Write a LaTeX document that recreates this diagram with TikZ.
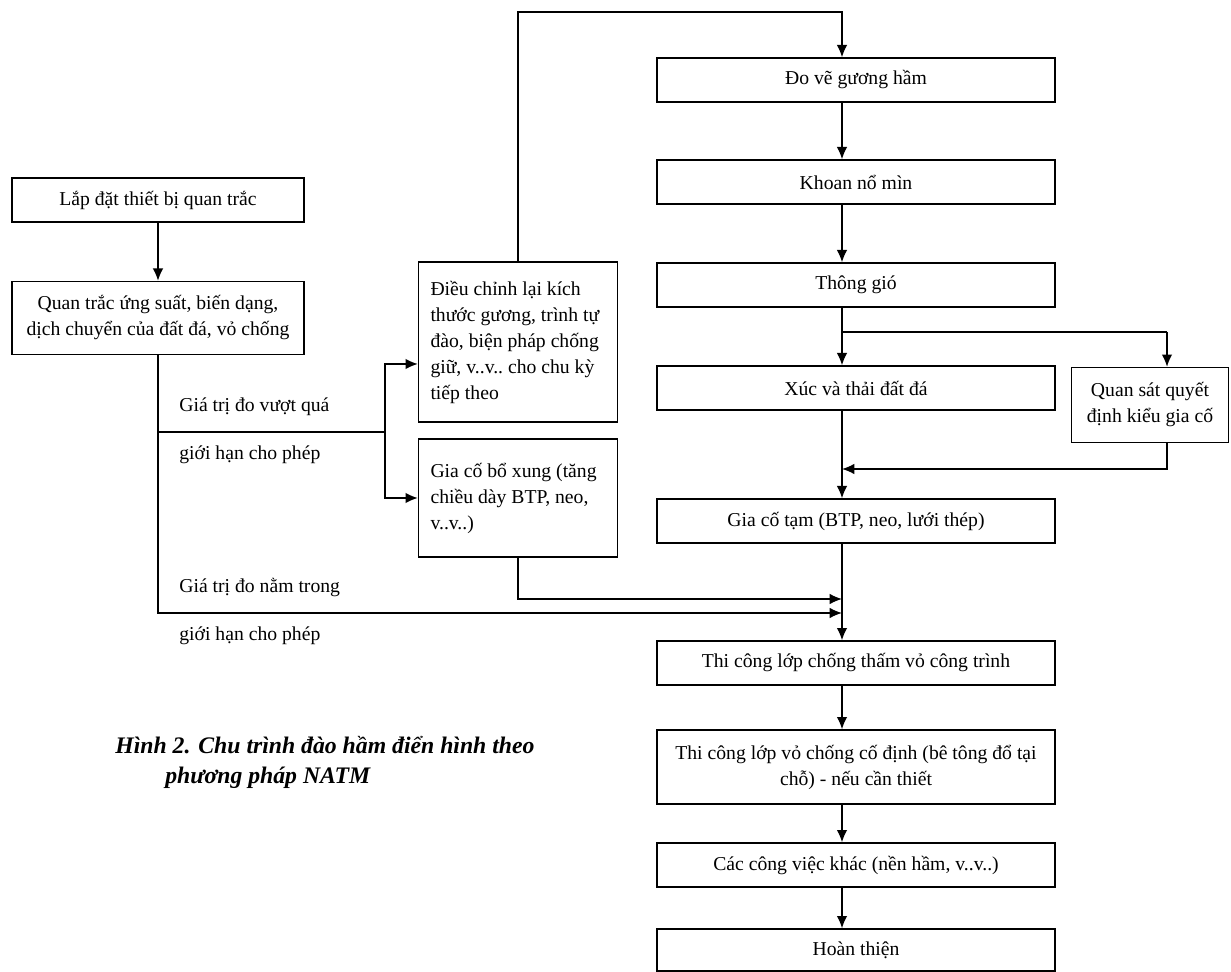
\documentclass[tikz,border=0pt]{standalone}
\usepackage{fontspec}
\setmainfont{Liberation Serif}
\usetikzlibrary{arrows.meta}

\newcommand{\boxfont}{\frenchspacing\fontsize{11.2}{14.8}\selectfont}
\newcommand{\capfont}{\fontsize{13.5}{17}\selectfont\bfseries\itshape}

\tikzset{
  box/.style={draw, line width=0.8pt, minimum height=0.88cm, inner sep=2pt, font=\boxfont, align=center},
  colbox/.style={box, minimum width=7.96cm},
  leftbox/.style={box, minimum width=5.84cm},
  sidebox/.style={box, minimum width=3.98cm, inner xsep=6pt, text width=3.5cm, align=flush left},
  arr/.style={-{Latex[length=7pt,width=6pt]}, line width=0.8pt},
  lbl/.style={anchor=west, font=\boxfont, inner sep=0pt},
}

\begin{document}
\begin{tikzpicture}[x=0.02cm, y=-0.02cm]

\useasboundingbox (0,0) rectangle (1231,972);

% left column
\node[leftbox] (lap) at (158,200) {Lắp đặt thiết bị quan trắc};
\node[leftbox, minimum height=1.46cm] (quantrac) at (158,318) {Quan trắc ứng suất, biến dạng,\\dịch chuyển của đất đá, vỏ chống};

% boxes in the middle
\node[sidebox, minimum height=3.2cm] (dieuchinh) at (518,342) {Điều chỉnh lại kích\\thước gương, trình tự\\đào, biện pháp chống\\giữ, v..v.. cho chu kỳ\\tiếp theo};
\node[sidebox, minimum height=2.36cm] (giacobx) at (518,498) {Gia cố bổ xung (tăng\\chiều dày BTP, neo,\\v..v..)\\[12pt]};

% main column
\node[colbox] (dove) at (856,80) {Đo vẽ gương hầm};
\node[colbox] (khoan) at (856,182) {Khoan nổ mìn};
\node[colbox] (thonggio) at (856,285) {Thông gió};
\node[colbox] (xuc) at (856,388) {Xúc và thải đất đá};
\node[box, minimum width=3.14cm, minimum height=1.5cm] (quansat) at (1150,405) {Quan sát quyết\\định kiểu gia cố};
\node[colbox] (giacotam) at (856,521) {Gia cố tạm (BTP, neo, lưới thép)};
\node[colbox] (chongtham) at (856,663) {Thi công lớp chống thấm vỏ công trình};
\node[colbox, minimum height=1.48cm] (vochong) at (856,767) {Thi công lớp vỏ chống cố định (bê tông đổ tại\\chỗ) - nếu cần thiết};
\node[colbox] (khac) at (856,865) {Các công việc khác (nền hầm, v..v..)};
\node[colbox, minimum height=0.84cm] (hoanthien) at (856,950) {Hoàn thiện};

% labels on the branches
\node[lbl] (vuot1) at (179,407) {Giá trị đo vượt quá};
\node[lbl] (vuot2) at (179,455) {giới hạn cho phép};
\node[lbl] (nam1) at (179,588) {Giá trị đo nằm trong};
\node[lbl] (nam2) at (179,636) {giới hạn cho phép};

% caption
\node[font=\capfont, align=left, anchor=west, inner sep=0pt] (caption) at (115,762)
  {Hình 2. Chu trình đào hầm điển hình theo\\\hspace*{1cm}phương pháp NATM};

% helper points
\coordinate (spine) at (842,0);
\coordinate (rx) at (1167,0);
\coordinate (looptop) at (842,12);
\coordinate (ysplit) at (0,332);
\coordinate (yret) at (0,469);
\coordinate (ybx) at (0,599);
\coordinate (yok) at (0,613);
\coordinate (tap) at (158,432);
\coordinate (fork) at (385,432);
\coordinate (yin) at (0,364);

% left side
\draw[arr] (lap) -- (quantrac);
\draw[arr] (quantrac.south) |- (spine |- yok);
\draw[line width=0.8pt] (tap) -- (fork);
\draw[arr] (fork) |- (dieuchinh.west |- yin);
\draw[arr] (fork) |- (giacobx.west);
\draw[arr] (dieuchinh.north) |- (looptop) -- (dove.north -| spine);
\draw[arr] (giacobx.south) |- (spine |- ybx);

% main column
\foreach \a/\b in {dove/khoan, khoan/thonggio, chongtham/vochong, vochong/khac, khac/hoanthien}
  \draw[arr] (\a.south -| spine) -- (\b.north -| spine);
\draw[line width=0.8pt] (thonggio.south -| spine) -- (spine |- ysplit) -- (rx |- ysplit);
\draw[arr] (spine |- ysplit) -- (xuc.north -| spine);
\draw[arr] (rx |- ysplit) -- (quansat.north -| rx);
\draw[arr] (quansat.south -| rx) |- (spine |- yret);
\draw[arr] (xuc.south -| spine) -- (giacotam.north -| spine);
\draw[arr] (giacotam.south -| spine) -- (chongtham.north -| spine);

\end{tikzpicture}
\end{document}
